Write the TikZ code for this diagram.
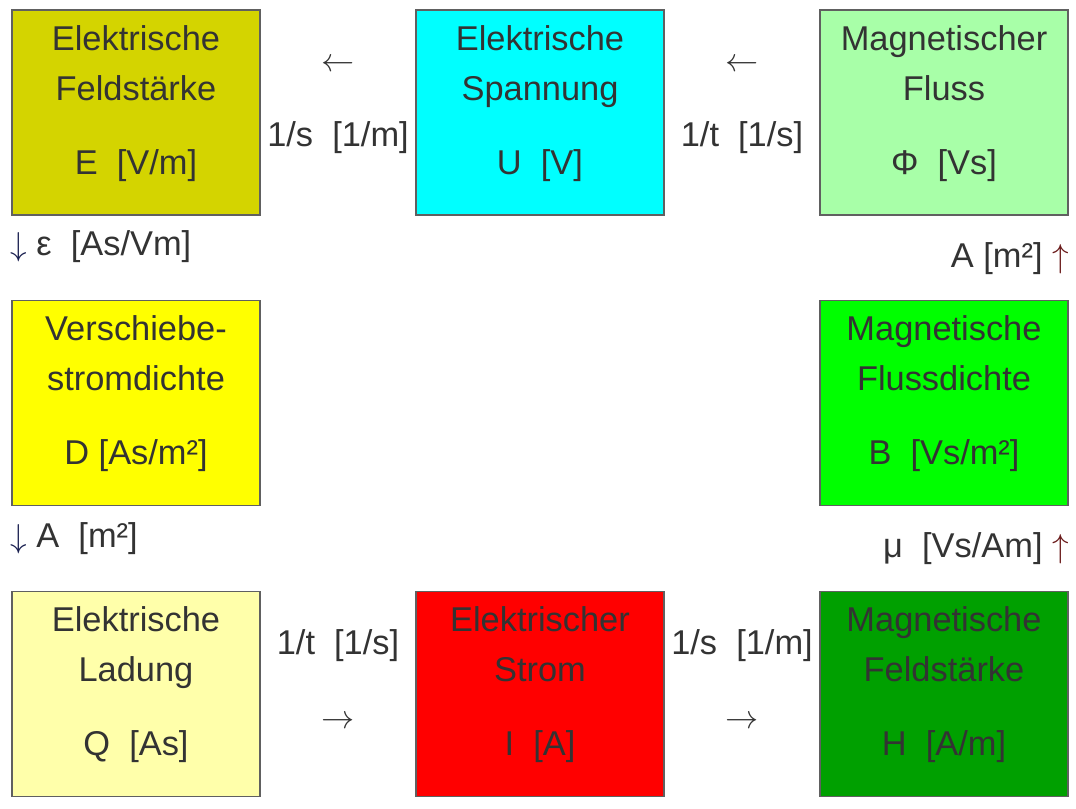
\documentclass[tikz,border=0pt]{standalone}
\usepackage{fontspec}
\setmainfont{Liberation Sans}
\usetikzlibrary{positioning}
\definecolor{schrift}{HTML}{333333}
\definecolor{rand}{HTML}{606060}
\definecolor{oliv}{HTML}{D4D400}
\definecolor{tuerkis}{HTML}{00FFFF}
\definecolor{hellgruen}{HTML}{A8FFA8}
\definecolor{gelb}{HTML}{FFFF00}
\definecolor{gruen}{HTML}{00FF00}
\definecolor{hellgelb}{HTML}{FFFFAA}
\definecolor{rot}{HTML}{FF0000}
\definecolor{dunkelgruen}{HTML}{00A000}
\definecolor{pfeilblau}{HTML}{1A2050}
\definecolor{pfeilrot}{HTML}{6A1A1A}
\tikzset{
	groesse/.style={
		rectangle,
		draw=rand, line width=1.1pt,
		minimum width=186pt,
		minimum height=153.75pt,
		inner sep=0pt},
	inhalt/.style={
		anchor=north,
		align=center,
		inner sep=0pt,
		text=schrift,
		font=\fontsize{25.8}{37.5}\selectfont},
	wert/.style={
		inner sep=0pt,
		text=schrift,
		font=\fontsize{25.8}{30}\selectfont},
}

\begin{document}
\begin{tikzpicture}
		[x=0.75pt, y=-0.75pt, node distance=12pt]
		\useasboundingbox (0,0) rectangle (1076,808);
		% Boxen
		\node[groesse, fill=oliv] (efeld) at (136,112.5) {};
		\node[groesse, fill=tuerkis] (spannung) at (540,112.5) {};
		\node[groesse, fill=hellgruen] (fluss) at (944,112.5) {};
		\node[groesse, fill=gelb] (verschiebe) at (136,403) {};
		\node[groesse, fill=gruen] (flussdichte) at (944,403) {};
		\node[groesse, fill=hellgelb] (ladung) at (136,694) {};
		\node[groesse, fill=rot] (strom) at (540,694) {};
		\node[groesse, fill=dunkelgruen] (hfeld) at (944,694) {};
		% Texte
		\node[inhalt, below=of efeld.north] (efeldT) {Elektrische\\Feldstärke\\[18pt]E\ \ [V/m]};
		\node[inhalt, below=of spannung.north] (spannungT) {Elektrische\\Spannung\\[18pt]U\ \ [V]};
		\node[inhalt, below=of fluss.north] (flussT) {Magnetischer\\Fluss\\[18pt]Φ\ \ [Vs]};
		\node[inhalt, below=of verschiebe.north] (verschiebeT) {Verschiebe-\\stromdichte\\[18pt]D [As/m²]};
		\node[inhalt, below=of flussdichte.north] (flussdichteT) {Magnetische\\Flussdichte\\[18pt]B\ \ [Vs/m²]};
		\node[inhalt, below=of ladung.north] (ladungT) {Elektrische\\Ladung\\[18pt]Q\ \ [As]};
		\node[inhalt, below=of strom.north] (stromT) {Elektrischer\\Strom\\[18pt]I\ \ [A]};
		\node[inhalt, below=of hfeld.north] (hfeldT) {Magnetische\\Feldstärke\\[18pt]H\ \ [A/m]};
		% Beziehungen oben
		\node[wert] (pfeilA) at (338,65) {$\leftarrow$};
		\node[wert] (faktorA) at (338,138) {1/s\ \ [1/m]};
		\node[wert] (pfeilB) at (742,65) {$\leftarrow$};
		\node[wert] (faktorB) at (742,138) {1/t\ \ [1/s]};
		% Beziehungen links
		\node[wert, anchor=west] (faktorC) at (10,247) {\textcolor{pfeilblau}{$\downarrow$} ε\ \ [As/Vm]};
		\node[wert, anchor=west] (faktorD) at (10,539) {\textcolor{pfeilblau}{$\downarrow$} A\ \ [m²]};
		% Beziehungen rechts
		\node[wert, anchor=east] (faktorE) at (1069,259) {A [m²] \textcolor{pfeilrot}{$\uparrow$}};
		\node[wert, anchor=east] (faktorF) at (1069,549) {μ\ \ [Vs/Am] \textcolor{pfeilrot}{$\uparrow$}};
		% Beziehungen unten
		\node[wert] (faktorG) at (338,646) {1/t\ \ [1/s]};
		\node[wert] (pfeilG) at (338,722) {$\rightarrow$};
		\node[wert] (faktorH) at (742,646) {1/s\ \ [1/m]};
		\node[wert] (pfeilH) at (742,722) {$\rightarrow$};
\end{tikzpicture}
\end{document}
